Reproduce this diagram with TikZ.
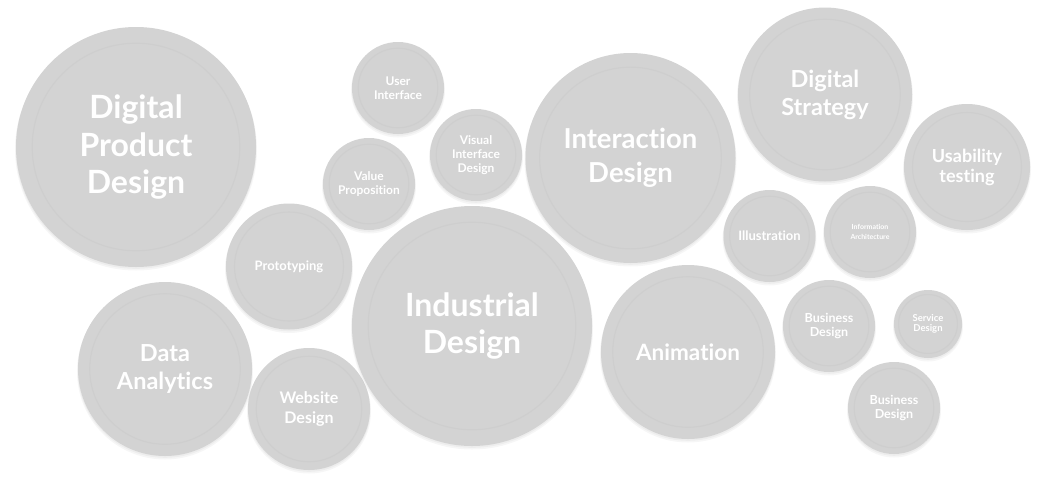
\documentclass[tikz,border=0pt]{standalone}
\usepackage{fontspec}
\setmainfont{Lato}[Ligatures={NoCommon}]
\definecolor{bubblefill}{HTML}{D3D3D3}
\definecolor{ringcol}{HTML}{CECECE}
\tikzset{
  bubble/.style={circle, fill=bubblefill, inner sep=0pt, text=white, align=center},
  ring/.style={draw=ringcol, line width=1.1pt},
  shade1/.style={fill=black, opacity=0.035},
}
\newcommand\bubble[7]{%
  \fill[shade1] (#2,#3+2.5) circle[radius=#4+1];
  \fill[shade1] (#2,#3+1.5) circle[radius=#4+0.3];
  \node[bubble, minimum size={2*#4pt},
        path picture={\draw[ring] (path picture bounding box.center) circle[radius={0.865*#4pt}];},
        font=\bfseries\fontsize{#5}{#6}\selectfont] (#1) at (#2,#3) {#7};%
}
\begin{document}
\begin{tikzpicture}[x=1pt,y=-1pt]
\fill[white] (0,0) rectangle (1037,480);
\useasboundingbox (0,0) rectangle (1037,480);
\bubble{dpd}{136}{147}{120}{32}{37.5}{Digital\\Product\\Design}
\bubble{proto}{289}{266.5}{63}{13}{15}{Prototyping}
\bubble{data}{165}{369}{87}{23.5}{28}{Data\\Analytics}
\bubble{web}{309}{409}{61}{16}{20}{Website\\Design}
\bubble{ui}{398}{88}{46}{12}{14}{User\\Interface}
\bubble{vp}{369}{184}{46}{12}{14}{Value\\Proposition}
\bubble{vid}{476}{155}{46}{12}{14}{Visual\\Interface\\Design}
\bubble{ind}{472}{326}{120}{32}{37}{Industrial\\Design}
\bubble{inter}{630.5}{158}{105}{27.5}{33.5}{Interaction\\Design}
\bubble{anim}{688}{352}{87}{22.5}{26}{Animation}
\bubble{dstrat}{825}{94.5}{87}{23.5}{28}{Digital\\Strategy}
\bubble{usab}{967}{167}{63}{18}{20}{Usability\\testing}
\bubble{illu}{769.5}{236}{46}{13}{15}{Illustration}
\bubble{ia}{870}{232}{46}{7}{9.5}{Information\\Architecture}
\bubble{bd1}{829}{326}{46}{12.5}{14}{Business\\Design}
\bubble{sd}{928}{324}{34}{9.5}{10.5}{Service\\Design}
\bubble{bd2}{894}{408}{46}{12.5}{14}{Business\\Design}
\end{tikzpicture}
\end{document}
